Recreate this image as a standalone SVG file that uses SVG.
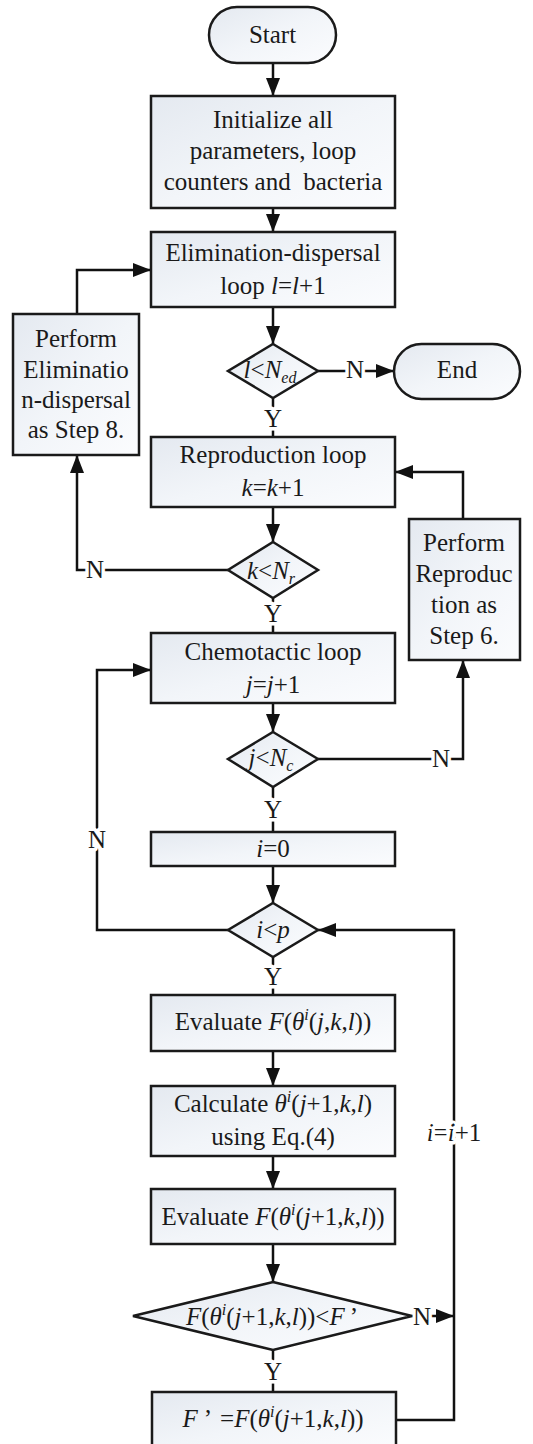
<svg xmlns="http://www.w3.org/2000/svg" width="533" height="1444" viewBox="0 0 533 1444">
<defs>
<linearGradient id="fill" x1="0" y1="0" x2="1" y2="1">
<stop offset="0" stop-color="#e4e9f0"/>
<stop offset="0.5" stop-color="#f2f5f9"/>
<stop offset="1" stop-color="#fbfcfe"/>
</linearGradient>
<marker id="ah" viewBox="0 0 10 10" refX="10" refY="5" markerWidth="18" markerHeight="14" markerUnits="userSpaceOnUse" orient="auto" preserveAspectRatio="none">
<path d="M0,0 L10,5 L0,10 z" fill="#111"/>
</marker>
</defs>
<style>
.n{fill:url(#fill);stroke:#1a1a1a;stroke-width:2.5}
.c{fill:none;stroke:#111;stroke-width:2.5}
.a{marker-end:url(#ah)}
text{font-family:"Liberation Serif","Times New Roman",serif;font-size:25px;fill:#1a1a1a;text-anchor:middle}
.i{font-style:italic}
.s{font-size:16px;font-style:italic}
.l{stroke:#fff;stroke-width:7px;paint-order:stroke;stroke-linejoin:round}
</style>
<rect width="533" height="1444" fill="#fff"/>

<g id="connectors">
<path class="c a" d="M273,63 V96"/>
<path class="c a" d="M273,208 V232"/>
<path class="c a" d="M273,307 V344"/>
<path class="c a" d="M318,371 H394"/>
<path class="c" d="M273,398 V437"/>
<path class="c a" d="M273,507 V542"/>
<path class="c a" d="M228,570 H77 V455"/>
<path class="c a" d="M77,314 V270 H151"/>
<path class="c" d="M273,598 V633"/>
<path class="c a" d="M273,703 V732"/>
<path class="c a" d="M318,759 H463 V660"/>
<path class="c a" d="M463,519 V472 H395"/>
<path class="c" d="M273,787 V832"/>
<path class="c a" d="M273,866 V903"/>
<path class="c a" d="M228,930 H97 V670 H151"/>
<path class="c" d="M273,957 V995"/>
<path class="c a" d="M273,1051 V1086"/>
<path class="c a" d="M273,1156 V1189"/>
<path class="c a" d="M273,1244 V1282"/>
<path class="c a" d="M412,1316 H454"/>
<path class="c" d="M273,1350 V1392"/>
<path class="c a" d="M396,1420 H454 V930 H318"/>
<text class="l" x="355" y="378">N</text>
<text class="l" x="273" y="427">Y</text>
<text class="l" x="95" y="578">N</text>
<text class="l" x="273" y="622">Y</text>
<text class="l" x="441" y="767">N</text>
<text class="l" x="273" y="818">Y</text>
<text class="l" x="97" y="848">N</text>
<text class="l" x="273" y="985">Y</text>
<text class="l" x="422" y="1325">N</text>
<text class="l" x="273" y="1380">Y</text>
<text class="l" x="454" y="1141"><tspan class="i">i</tspan>=<tspan class="i">i</tspan>+1</text>
</g>

<g id="start">
<rect class="n" x="209" y="7" width="127" height="56" rx="28"/>
<text x="272.5" y="43">Start</text>
</g>

<g id="init">
<rect class="n" x="151" y="96" width="244" height="112"/>
<text x="273" y="128">Initialize all</text>
<text x="273" y="159">parameters, loop</text>
<text x="273" y="190" xml:space="preserve">counters and  bacteria</text>
</g>

<g id="elim-loop">
<rect class="n" x="151" y="232" width="244" height="75"/>
<text x="273" y="261">Elimination-dispersal</text>
<text x="273" y="294">loop <tspan class="i">l</tspan>=<tspan class="i">l</tspan>+1</text>
</g>

<g id="cond-ned">
<polygon class="n" points="273,344 318,371 273,398 228,371"/>
<text x="270" y="378"><tspan class="i">l</tspan>&lt;<tspan class="i">N</tspan><tspan class="s" dy="5">ed</tspan></text>
</g>

<g id="end">
<rect class="n" x="394" y="344" width="126" height="55" rx="27.5"/>
<text x="457" y="378">End</text>
</g>

<g id="perform-elim">
<rect class="n" x="13" y="314" width="126" height="141"/>
<text x="76" y="347">Perform</text>
<text x="76" y="378">Eliminatio</text>
<text x="76" y="408">n-dispersal</text>
<text x="76" y="438">as Step 8.</text>
</g>

<g id="repro-loop">
<rect class="n" x="151" y="437" width="244" height="70"/>
<text x="273" y="463">Reproduction loop</text>
<text x="273" y="496"><tspan class="i">k</tspan>=<tspan class="i">k</tspan>+1</text>
</g>

<g id="cond-nr">
<polygon class="n" points="273,542 318,570 273,598 228,570"/>
<text x="271" y="579"><tspan class="i">k</tspan>&lt;<tspan class="i">N</tspan><tspan class="s" dy="5">r</tspan></text>
</g>

<g id="perform-repro">
<rect class="n" x="409" y="519" width="111" height="141"/>
<text x="464" y="551">Perform</text>
<text x="464" y="582">Reproduc</text>
<text x="464" y="613">tion as</text>
<text x="464" y="644">Step 6.</text>
</g>

<g id="chemo-loop">
<rect class="n" x="151" y="633" width="244" height="70"/>
<text x="273" y="660">Chemotactic loop</text>
<text x="273" y="693"><tspan class="i">j</tspan>=<tspan class="i">j</tspan>+1</text>
</g>

<g id="cond-nc">
<polygon class="n" points="273,732 318,759 273,787 228,759"/>
<text x="271" y="766"><tspan class="i">j</tspan>&lt;<tspan class="i">N</tspan><tspan class="s" dy="5">c</tspan></text>
</g>

<g id="i-zero">
<rect class="n" x="151" y="832" width="244" height="34"/>
<text x="273" y="857"><tspan class="i">i</tspan>=0</text>
</g>

<g id="cond-p">
<polygon class="n" points="273,903 318,930 273,957 228,930"/>
<text x="273" y="938"><tspan class="i">i</tspan>&lt;<tspan class="i">p</tspan></text>
</g>

<g id="evaluate1">
<rect class="n" x="151" y="995" width="244" height="56"/>
<text x="273" y="1030">Evaluate <tspan class="i">F</tspan>(<tspan class="i">θ</tspan><tspan class="s" dy="-10">i</tspan><tspan dy="10">(</tspan><tspan class="i">j</tspan>,<tspan class="i">k</tspan>,<tspan class="i">l</tspan>))</text>
</g>

<g id="calculate">
<rect class="n" x="151" y="1086" width="244" height="70"/>
<text x="273" y="1112">Calculate <tspan class="i">θ</tspan><tspan class="s" dy="-10">i</tspan><tspan dy="10">(</tspan><tspan class="i">j</tspan>+1,<tspan class="i">k</tspan>,<tspan class="i">l</tspan>)</text>
<text x="273" y="1145">using Eq.(4)</text>
</g>

<g id="evaluate2">
<rect class="n" x="151" y="1189" width="244" height="55"/>
<text x="273" y="1225">Evaluate <tspan class="i">F</tspan>(<tspan class="i">θ</tspan><tspan class="s" dy="-10">i</tspan><tspan dy="10">(</tspan><tspan class="i">j</tspan>+1,<tspan class="i">k</tspan>,<tspan class="i">l</tspan>))</text>
</g>

<g id="cond-f">
<polygon class="n" points="273,1282 412,1316 273,1350 133,1316"/>
<text x="272" y="1325"><tspan class="i">F</tspan>(<tspan class="i">θ</tspan><tspan class="s" dy="-10">i</tspan><tspan dy="10">(</tspan><tspan class="i">j</tspan>+1,<tspan class="i">k</tspan>,<tspan class="i">l</tspan>))&lt;<tspan class="i">F</tspan><tspan dx="5">’</tspan></text>
</g>

<g id="update-f">
<rect class="n" x="152" y="1392" width="244" height="58"/>
<text x="273" y="1427"><tspan class="i">F</tspan><tspan dx="6">’</tspan><tspan dx="8">=</tspan><tspan class="i">F</tspan>(<tspan class="i">θ</tspan><tspan class="s" dy="-10">i</tspan><tspan dy="10">(</tspan><tspan class="i">j</tspan>+1,<tspan class="i">k</tspan>,<tspan class="i">l</tspan>))</text>
</g>
</svg>
